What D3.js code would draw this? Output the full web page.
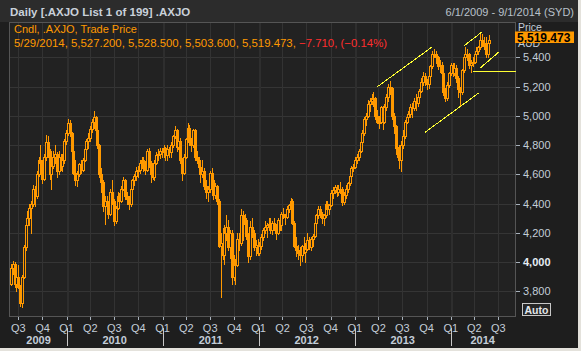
<!DOCTYPE html>
<html><head><meta charset="utf-8">
<script src="https://cdn.jsdelivr.net/npm/d3@7"></script>
<style>
body{margin:0;background:#1e1e1e;overflow:hidden}
text{font-family:"Liberation Sans",Arial,sans-serif}
</style></head><body>
<svg id="c" width="581" height="351"></svg>
<script>
// ---------- DATA (weekly candles, [open, high, low, close]) ----------
const ohlc2009 = [
[3850,3990,3840,3960],[3960,4010,3920,3990],[3990,4000,3830,3850],[3850,3940,3800,3900],[3900,3980,3820,3830],
[3830,3840,3700,3720],[3720,3910,3690,3900],[3900,4120,3890,4100],[4100,4280,4080,4250],
[4250,4350,4220,4300],[4300,4400,4250,4370],[4370,4420,4200,4400],[4400,4530,4380,4500],[4500,4520,4380,4450],
[4450,4620,4440,4600],[4600,4720,4590,4700],[4700,4800,4630,4680],[4680,4700,4540,4570],
[4570,4740,4560,4720],[4720,4870,4700,4820],[4820,4860,4720,4760],[4760,4770,4570,4600],
[4600,4680,4500,4660],[4660,4760,4640,4720],[4720,4800,4680,4740],[4740,4750,4580,4620],[4620,4760,4600,4720],
[4720,4740,4630,4660],[4660,4740,4620,4700],[4700,4840,4680,4830],[4830,4900,4810,4880]];
const ohlc2010 = [
[4880,4980,4870,4950],[4950,4970,4860,4880],[4880,4890,4740,4760],[4760,4770,4600,4610],
[4610,4700,4530,4560],[4560,4620,4520,4600],[4600,4680,4590,4670],[4670,4700,4610,4630],
[4630,4710,4620,4700],[4700,4780,4690,4770],[4770,4840,4760,4830],[4830,4880,4780,4850],[4850,4930,4830,4910],
[4910,4980,4890,4960],[4960,5030,4920,4990],[4990,5000,4880,4900],[4900,4940,4780,4800],
[4800,4810,4580,4600],[4600,4640,4480,4550],[4550,4560,4350,4380],[4380,4450,4260,4420],[4420,4450,4370,4400],
[4400,4420,4300,4330],[4330,4500,4320,4480],[4480,4560,4400,4420],[4420,4430,4250,4280],
[4280,4380,4270,4370],[4370,4480,4360,4450],[4450,4470,4380,4420],[4420,4520,4410,4500],
[4500,4580,4490,4560],[4560,4570,4430,4450],[4450,4480,4400,4430],[4430,4450,4360,4400],[4400,4510,4380,4500],
[4500,4570,4490,4560],[4560,4600,4530,4590],[4590,4650,4560,4620],[4620,4660,4580,4630],
[4630,4700,4610,4680],[4680,4720,4640,4700],[4700,4720,4620,4650],[4650,4690,4600,4630],
[4630,4770,4620,4760],[4760,4780,4650,4680],[4680,4690,4550,4600],[4600,4660,4570,4580],[4580,4700,4560,4680],
[4680,4750,4670,4730],[4730,4770,4700,4740],[4740,4780,4710,4760],[4760,4780,4720,4750]];
const ohlc2011 = [
[4750,4800,4720,4780],[4780,4790,4700,4730],[4730,4800,4700,4770],[4770,4790,4720,4750],[4750,4820,4720,4800],
[4800,4870,4790,4860],[4860,4930,4850,4900],[4900,4910,4760,4790],[4790,4850,4770,4830],
[4830,4850,4680,4700],[4700,4710,4560,4610],[4610,4740,4600,4720],[4720,4850,4710,4840],
[4840,4950,4830,4920],[4920,4940,4800,4820],[4820,4850,4760,4800],[4800,4910,4790,4900],
[4900,4910,4700,4720],[4720,4760,4680,4700],[4700,4720,4620,4650],[4650,4670,4550,4600],[4600,4700,4580,4620],
[4620,4640,4500,4520],[4520,4560,4440,4480],[4480,4520,4420,4500],[4500,4620,4480,4610],
[4610,4640,4540,4560],[4560,4570,4430,4460],[4460,4540,4440,4520],[4520,4530,4400,4420],
[4420,4430,4100,4110],[4110,4200,3760,4130],[4130,4230,4020,4050],[4050,4250,3990,4200],[4200,4320,4150,4240],
[4240,4290,4080,4100],[4100,4220,4030,4200],[4200,4220,3850,3900],[3900,4050,3880,3990],
[3990,4020,3850,3980],[3980,4200,3970,4160],[4160,4200,4080,4130],[4130,4360,4120,4320],[4320,4350,4150,4260],
[4260,4330,4200,4290],[4290,4300,4160,4180],[4180,4200,4000,4040],[4040,4280,4020,4240],
[4240,4300,4170,4200],[4200,4220,4080,4100],[4100,4150,4050,4120],[4120,4160,4050,4060]];
const ohlc2012 = [
[4060,4140,4050,4110],[4110,4190,4090,4170],[4170,4230,4150,4220],[4220,4280,4200,4240],[4240,4270,4170,4250],
[4250,4300,4220,4260],[4260,4300,4200,4220],[4220,4280,4190,4270],[4270,4300,4220,4250],
[4250,4260,4160,4200],[4200,4300,4190,4290],[4290,4320,4220,4250],[4250,4340,4220,4330],
[4330,4370,4300,4320],[4320,4330,4260,4310],[4310,4380,4300,4360],[4360,4400,4340,4390],[4390,4440,4360,4420],
[4420,4430,4260,4270],[4270,4280,4100,4110],[4110,4170,4040,4080],[4080,4120,4020,4060],
[4060,4100,3980,4050],[4050,4120,4010,4110],[4110,4170,4060,4070],[4070,4130,4000,4090],
[4090,4200,4080,4150],[4150,4170,4090,4100],[4100,4170,4080,4160],[4160,4190,4110,4180],[4180,4280,4170,4270],
[4270,4330,4260,4320],[4320,4380,4300,4360],[4360,4380,4310,4330],[4330,4340,4270,4300],
[4300,4330,4250,4320],[4320,4420,4310,4400],[4400,4420,4330,4360],[4360,4400,4330,4390],
[4390,4490,4380,4470],[4470,4510,4440,4490],[4490,4530,4470,4510],[4510,4530,4450,4480],[4480,4530,4460,4500],
[4500,4550,4470,4500],[4500,4510,4390,4410],[4410,4480,4400,4460],[4460,4530,4440,4500],
[4500,4550,4480,4540],[4540,4600,4530,4590],[4590,4660,4580,4640],[4640,4670,4620,4650]];
const ohlc2013 = [
[4650,4720,4640,4700],[4700,4740,4680,4720],[4720,4770,4700,4760],[4760,4830,4750,4820],[4820,4900,4810,4880],
[4880,4990,4870,4980],[4980,5020,4940,5000],[5000,5110,4990,5080],[5080,5120,5030,5100],
[5100,5150,5080,5120],[5120,5160,5070,5120],[5120,5130,4980,5000],[5000,5040,4950,4960],
[4960,5000,4920,4960],[4960,5070,4950,5060],[5060,5070,4910,4960],[4960,5080,4950,5060],[5060,5150,5040,5130],
[5130,5220,5100,5200],[5200,5240,5150,5190],[5190,5200,4980,5000],[5000,5020,4880,4930],
[4930,4940,4740,4780],[4780,4850,4720,4790],[4790,4800,4640,4700],[4700,4830,4620,4800],
[4800,4900,4780,4860],[4860,4970,4850,4960],[4960,5010,4950,4990],[4990,5030,4960,5010],[5010,5080,4990,5060],
[5060,5090,4990,5050],[5050,5120,5040,5100],[5100,5150,5040,5090],[5090,5150,5070,5130],
[5130,5180,5120,5170],[5170,5260,5160,5230],[5230,5300,5210,5270],[5270,5290,5210,5230],[5230,5250,5180,5220],
[5220,5280,5190,5270],[5270,5350,5260,5340],[5340,5440,5330,5420],[5420,5460,5400,5420],
[5420,5440,5360,5400],[5400,5410,5320,5340],[5340,5380,5300,5350],[5350,5370,5280,5290],
[5290,5300,5140,5160],[5160,5190,5100,5120],[5120,5230,5110,5210],[5210,5300,5200,5290]];
const ohlc2014 = [
[5290,5360,5280,5350],[5350,5360,5270,5290],[5290,5360,5280,5330],[5330,5350,5230,5260],[5260,5270,5130,5180],
[5180,5200,5070,5160],[5160,5320,5150,5310],[5310,5410,5300,5400],[5400,5470,5380,5420],
[5420,5460,5380,5420],[5420,5430,5330,5350],[5350,5380,5300,5360],[5360,5400,5340,5370],[5370,5430,5360,5420],
[5420,5470,5400,5440],[5440,5480,5420,5470],[5470,5560,5460,5520],[5520,5560,5480,5500],
[5500,5540,5460,5480],[5480,5540,5400,5420],[5420,5520,5400,5500],[5500,5550,5490,5519.473]];

const yTicks = [3800, 4000, 4200, 4400, 4600, 4800, 5000, 5200, 5400];
const boldTick = 4000;
const titleText = "Daily [.AXJO List 1 of 199] .AXJO";
const rangeText = "6/1/2009 - 9/1/2014 (SYD)";
const legendTitle = "Cndl, .AXJO, Trade Price";
const lastBar = {date: "5/29/2014", open: 5527.2, high: 5528.5, low: 5503.6, close: 5519.473, change: -7.71, pct: -0.14};
// drawn annotations: [startDate, startValue, endDate, endValue]
const trendLines = [
  ["2013-03-25", 5195, "2013-10-23", 5472],
  ["2014-02-21", 5479, "2014-05-01", 5575],
  ["2013-09-25", 4887, "2014-04-19", 5158],
  ["2014-04-22", 5325, "2014-07-03", 5436]
];
const supportLine = ["2014-03-25", 5308];

// ---------- DRAW ----------
const ORANGE = "#ff9900";
const svg = d3.select("#c");
const P = {l: 9.5, t: 22.5, r: 515.5, b: 316.5};
const startD = new Date(2009, 5, 1), endD = new Date(2014, 8, 1);
const x = d3.scaleTime().domain([startD, endD]).range([10.4, 514.6]);
const y = d3.scaleLinear().domain([3800, 5400]).range([291.3, 57.3]);
const pd = d3.timeParse("%Y-%m-%d");

svg.append("rect").attr("width", 581).attr("height", 351).attr("fill", "#1e1e1e");
svg.append("rect").attr("width", 581).attr("height", 22).attr("fill", "#2c2c2c");
svg.append("rect").attr("x", 578).attr("width", 3).attr("height", 351).attr("fill", "#e4e2dc");
svg.append("rect").attr("y", 348).attr("width", 581).attr("height", 3).attr("fill", "#e4e2dc");

svg.append("rect").attr("x", P.l).attr("y", P.t).attr("width", P.r - P.l).attr("height", P.b - P.t)
  .attr("fill", "#222222");

// grid
const grid = svg.append("g").attr("shape-rendering", "crispEdges");
yTicks.forEach(v => {
  const yy = Math.round(y(v)) + 0.5;
  grid.append("line").attr("x1", P.l).attr("x2", P.r).attr("y1", yy).attr("y2", yy)
    .attr("stroke", "#353535");
});
const quarters = d3.timeMonth.every(3).range(new Date(2009, 6, 1), endD);
quarters.forEach(q => {
  const xx = Math.round(x(q)) + 0.5;
  const isYear = q.getMonth() === 0;
  grid.append("line").attr("x1", xx).attr("x2", xx).attr("y1", P.t).attr("y2", P.b)
    .attr("stroke", isYear ? "#2e2e2e" : "#333333").attr("stroke-width", isYear ? 2 : 1);
});

// frame
svg.append("rect").attr("x", P.l).attr("y", P.t).attr("width", P.r - P.l).attr("height", P.b - P.t)
  .attr("fill", "none").attr("stroke", "#555555").attr("shape-rendering", "crispEdges");

// candles
const ohlc = [].concat(ohlc2009, ohlc2010, ohlc2011, ohlc2012, ohlc2013, ohlc2014);
const mondays = d3.timeMonday.range(startD, new Date(2014, 5, 1));
const bars = ohlc.map((d, i) => ({date: d3.timeDay.offset(mondays[i], 2), o: d[0], h: d[1], l: d[2], c: d[3]}));
const cg = svg.append("g").attr("shape-rendering", "crispEdges");
bars.forEach(b => {
  const cx = Math.round(x(b.date));
  cg.append("line").attr("x1", cx + 0.5).attr("x2", cx + 0.5)
    .attr("y1", Math.round(y(b.h))).attr("y2", Math.round(y(b.l)) + 1)
    .attr("stroke", ORANGE);
});
bars.forEach(b => {
  const cx = Math.round(x(b.date));
  const top = Math.round(y(Math.max(b.o, b.c)));
  const bot = Math.round(y(Math.min(b.o, b.c)));
  const up = b.c >= b.o;
  cg.append("rect").attr("x", cx - 0.5).attr("y", top + 0.5)
    .attr("width", 2).attr("height", Math.max(bot - top, 1))
    .attr("fill", up ? "#222222" : ORANGE).attr("stroke", ORANGE);
});

// annotations
const an = svg.append("g").attr("shape-rendering", "crispEdges").attr("stroke", "#ffff33");
trendLines.forEach(t => {
  an.append("line").attr("x1", x(pd(t[0]))).attr("y1", y(t[1]))
    .attr("x2", x(pd(t[2]))).attr("y2", y(t[3]));
});
an.append("line").attr("x1", x(pd(supportLine[0]))).attr("x2", P.r)
  .attr("y1", Math.round(y(supportLine[1])) + 0.5).attr("y2", Math.round(y(supportLine[1])) + 0.5)
  .attr("stroke-width", 1.5);

// title bar texts
svg.append("text").attr("x", 10).attr("y", 16).attr("font-size", 11.5).attr("font-weight", "bold")
  .attr("fill", "#c9d1da").text(titleText);
svg.append("text").attr("x", 574).attr("y", 16).attr("font-size", 11).attr("text-anchor", "end")
  .attr("fill", "#b9c1ca").text(rangeText);

// legend
svg.append("text").attr("x", 14).attr("y", 33).attr("font-size", 11).attr("fill", ORANGE).text(legendTitle);
const f3 = d3.format(",.3f");
const lg = svg.append("text").attr("x", 14).attr("y", 46.5).attr("font-size", 11.4);
lg.append("tspan").attr("fill", ORANGE)
  .text(`${lastBar.date}, ${f3(lastBar.open)}, ${f3(lastBar.high)}, ${f3(lastBar.low)}, ${f3(lastBar.close)}, `);
lg.append("tspan").attr("fill", "#ff2e2e")
  .text(`${d3.format(".3f")(lastBar.change)}, (${d3.format(".2f")(lastBar.pct)}%)`);

// right axis
const ax = svg.append("g");
yTicks.forEach(v => {
  const yy = Math.round(y(v)) + 0.5;
  ax.append("line").attr("x1", 516).attr("x2", 520).attr("y1", yy).attr("y2", yy)
    .attr("stroke", "#a8b2bc").attr("shape-rendering", "crispEdges");
  ax.append("text").attr("x", 523).attr("y", yy).attr("dy", "0.36em").attr("font-size", 11)
    .attr("font-weight", v === boldTick ? "bold" : "normal")
    .attr("fill", v === boldTick ? "#e6edf4" : "#c3cdd8").text(d3.format(",")(v));
});
ax.append("text").attr("x", 518).attr("y", 31).attr("font-size", 10.5).attr("fill", "#c3cdd8").text("Price");
ax.append("text").attr("x", 518).attr("y", 47).attr("font-size", 10.5).attr("fill", "#c3cdd8").text("AUD");
ax.append("rect").attr("x", 515).attr("y", 31.5).attr("width", 59).attr("height", 11.5).attr("fill", ORANGE);
ax.append("text").attr("x", 517).attr("y", 42.3).attr("font-size", 12).attr("font-weight", "bold")
  .attr("fill", "#000").text(f3(lastBar.close));

// Auto button
ax.append("rect").attr("x", 522.5).attr("y", 303.5).attr("width", 28).attr("height", 12)
  .attr("fill", "#262626").attr("stroke", "#c8c8c8").attr("shape-rendering", "crispEdges");
ax.append("text").attr("x", 536.5).attr("y", 313.5).attr("text-anchor", "middle").attr("font-size", 10.5)
  .attr("font-weight", "bold").attr("fill", "#e2e6ea").text("Auto");

// bottom axis
const bx = svg.append("g");
quarters.forEach(q => {
  const xx = Math.round(x(q)) + 0.5;
  bx.append("line").attr("x1", xx).attr("x2", xx).attr("y1", 317).attr("y2", 320)
    .attr("stroke", "#a8b2bc").attr("shape-rendering", "crispEdges");
  bx.append("text").attr("x", x(q)).attr("y", 331.5).attr("text-anchor", "middle").attr("font-size", 11)
    .attr("fill", "#c3cdd8").text("Q" + (Math.floor(q.getMonth() / 3) + 1));
});
const years = d3.timeYear.range(new Date(2009, 0, 1), endD);
years.forEach(yr => {
  const a = Math.max(x(yr), x(startD));
  const b = Math.min(x(d3.timeYear.offset(yr, 1)), x(endD));
  bx.append("text").attr("x", (a + b) / 2).attr("y", 344).attr("text-anchor", "middle").attr("font-size", 11)
    .attr("font-weight", "bold").attr("fill", "#c3cdd8").text(d3.timeFormat("%Y")(yr));
  if (yr > startD) {
    const xx = Math.round(x(yr)) + 0.5;
    bx.append("line").attr("x1", xx).attr("x2", xx).attr("y1", 328).attr("y2", 346)
      .attr("stroke", "#c8c8c8").attr("shape-rendering", "crispEdges");
  }
});
</script>
</body></html>
